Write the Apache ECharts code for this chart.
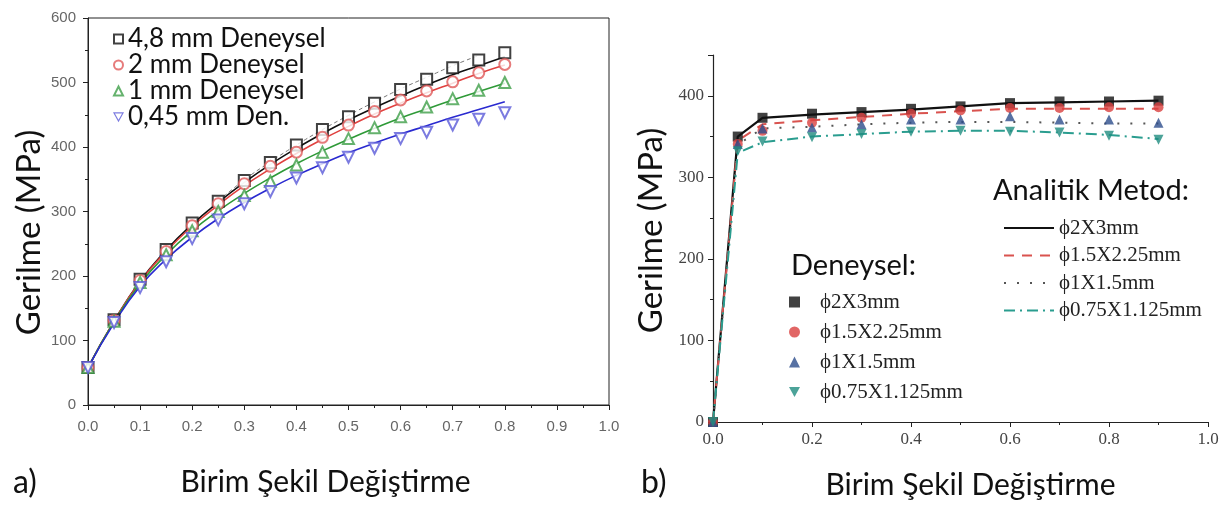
<!DOCTYPE html>
<html><head><meta charset="utf-8">
<script src="https://cdn.jsdelivr.net/npm/echarts@6/dist/echarts.min.js"></script>
<style>html,body{margin:0;padding:0;background:#fff}#c{width:1225px;height:505px}</style>
</head><body><div id="c"></div>
<script>
// ---------- Panel a ----------
const strainA = [0,0.05,0.1,0.15,0.2,0.25,0.3,0.35,0.4,0.45,0.5,0.55,0.6,0.65,0.7,0.75,0.8];
const namesA = ['4,8 mm Deneysel','2 mm Deneysel','1 mm Deneysel','0,45 mm Den.'];
const expA_48 = [58,132,195,241,282,316,348,376,403,427,447,468,489,505,523,535,546];
const expA_2  = [58,131,193,238,278,312,343,370,392,415,434,455,473,487,501,515,528];
const expA_1  = [58,130,190,233,270,300,325,347,372,392,413,430,447,462,475,488,500];
const expA_045= [58,128,182,222,258,287,312,331,352,368,384,398,413,423,434,443,453];
const fitA_48 = [58,130,192,240,280,314,345,373,398,421,442,461,479,496,512,526,540];
const fitA_2  = [58,130,191,238,277,310,340,366,390,412,432,451,468,484,499,514,527];
const fitA_1  = [58,129,188,233,270,301,328,352,374,394,412,429,445,459,473,486,499];
const fitA_045= [58,127,184,226,260,289,314,336,356,374,391,406,420,433,446,458,470];
const dashStrainA = [0.25,0.3,0.35,0.4,0.45,0.5,0.55,0.6,0.65,0.7,0.75];
const dashA_48 = [316,349,377,403,427,449,470,490,508,526,542];

// ---------- Panel b ----------
const strainB = [0,0.05,0.1,0.2,0.3,0.4,0.5,0.6,0.7,0.8,0.9];
const namesB = ['ϕ2X3mm','ϕ1.5X2.25mm','ϕ1X1.5mm','ϕ0.75X1.125mm'];
const expB_2   = [0,350,373,378,380,384,387,391,393,393,394];
const expB_15  = [0,341,357,367,373,378,382,385,385,386,386];
const expB_1   = [0,341,360,361,365,371,371,375,371,371,367];
const expB_075 = [0,332,344,349,353,356,357,356,355,351,346];
const anB_2    = [0,350,373,377,380,383,387,391,392,393,394];
const anB_15   = [0,345,365,370,374,378,381,384,384,384,384];
const anB_1    = [0,340,360,362,365,367,368,368,367,366,366];
const anB_075  = [0,330,343,350,353,356,357,357,355,352,347];

const pairs = (xs, ys) => xs.map((x, i) => [x, ys[i]]);

const sansFont = 'Lato';
const chart = echarts.init(document.getElementById('c'), null, {renderer: 'canvas'});

const colA = ['#111111','#e0413f','#2f9a38','#2a2ad0'];
const mkA = ['emptyRect','emptyCircle','emptyTriangle','emptyTriangle'];
const mkColA = ['#111111','#e05a5a','#3f9f48','#5a5ad8'];
const expA = [expA_48, expA_2, expA_1, expA_045];
const fitA = [fitA_48, fitA_2, fitA_1, fitA_045];

const colB = ['#111111','#d9403f','#2d4e8c','#1f8c80'];
const mkB = ['rect','circle','triangle','triangle'];
const expB = [expB_2, expB_15, expB_1, expB_075];
const anB = [anB_2, anB_15, anB_1, anB_075];
const lineTypesB = ['solid', [10,8], [2,11], [11,5,2,5]];
const lineColB = ['#111111','#d9534f','#555555','#2a9d8f'];

const series = [];
fitA.forEach((d, i) => series.push({
  type: 'line', name: namesA[i] + ' fit', xAxisIndex: 0, yAxisIndex: 0,
  data: pairs(strainA, d), smooth: true, symbol: 'none',
  lineStyle: {color: colA[i], width: 1.6}, z: 2, silent: true
}));
series.push({
  type: 'line', name: '4,8 mm dashed', xAxisIndex: 0, yAxisIndex: 0,
  data: pairs(dashStrainA, dashA_48), smooth: true, symbol: 'none',
  lineStyle: {color: '#777', width: 1, type: [4,3]}, z: 2, silent: true
});
expA.forEach((d, i) => series.push({
  type: 'scatter', name: namesA[i], xAxisIndex: 0, yAxisIndex: 0,
  data: pairs(strainA, d), symbol: mkA[i], symbolSize: 11,
  symbolRotate: i === 3 ? 180 : 0,
  itemStyle: {color: mkColA[i], borderColor: mkColA[i], borderWidth: 1.2}, z: 3
}));
anB.forEach((d, i) => series.push({
  type: 'line', name: namesB[i] + ' ', xAxisIndex: 1, yAxisIndex: 1,
  data: pairs(strainB, d), symbol: 'none',
  itemStyle: {color: lineColB[i]},
  lineStyle: {color: lineColB[i], width: i === 0 ? 2.2 : 2, type: lineTypesB[i]}, z: 2
}));
expB.forEach((d, i) => series.push({
  type: 'scatter', name: namesB[i], xAxisIndex: 1, yAxisIndex: 1,
  data: pairs(strainB, d), symbol: mkB[i], symbolSize: 10,
  symbolRotate: i === 3 ? 180 : 0,
  itemStyle: {color: colB[i]}, z: 3
}));

const axisLabelA = {color: '#666', fontFamily: 'Liberation Sans', fontSize: 15};
const axisLabelB = {color: '#444', fontFamily: 'Liberation Serif', fontSize: 17};

const downTri = 'path://M0,0L10,0L5,9Z';
const legendAData = namesA.map((n, i) => i === 3
  ? {name: n, icon: downTri, itemStyle: {color: '#fff', borderColor: mkColA[3], borderWidth: 1.2}}
  : {name: n});
const legendBData = namesB.map((n, i) => i === 3
  ? {name: n, icon: downTri, itemStyle: {color: colB[3]}}
  : {name: n});

chart.setOption({
  animation: false,
  backgroundColor: '#fff',
  title: [
    {text: 'a)', left: 8, top: 462, textStyle: {fontFamily: sansFont, fontWeight: 'normal', fontSize: 32, color: '#111'}},
    {text: 'b)', left: 636, top: 462, textStyle: {fontFamily: sansFont, fontWeight: 'normal', fontSize: 32, color: '#111'}},
    {text: 'Deneysel:', left: 786, top: 246, textStyle: {fontFamily: sansFont, fontWeight: 'normal', fontSize: 29, color: '#111'}},
    {text: 'Analitik Metod:', left: 988, top: 171, textStyle: {fontFamily: sansFont, fontWeight: 'normal', fontSize: 29, color: '#111'}}
  ],
  legend: [
    {
      data: legendAData,
      orient: 'vertical', left: 113, top: 26, itemWidth: 9, itemHeight: 9, itemGap: 0,
      padding: 0,
      textStyle: {fontFamily: sansFont, fontSize: 26, color: '#111', lineHeight: 23}
    },
    {
      data: legendBData,
      orient: 'vertical', left: 789, top: 291, itemWidth: 11, itemHeight: 11, itemGap: 8,
      padding: 0,
      textStyle: {fontFamily: 'Liberation Serif', fontSize: 21, color: '#222', lineHeight: 22, padding: [0, 0, 0, 15]}
    },
    {
      data: namesB.map(n => n + ' '),
      orient: 'vertical', left: 1003, top: 217, itemWidth: 50, itemHeight: 12, itemGap: 5.5,
      padding: 0,
      itemStyle: {opacity: 0},
      textStyle: {fontFamily: 'Liberation Serif', fontSize: 21, color: '#222', lineHeight: 22}
    }
  ],
  grid: [
    {left: 88, top: 18, width: 521, height: 387, show: true, borderColor: '#222', borderWidth: 1, backgroundColor: 'transparent', containLabel: false},
    {left: 713, top: 55, width: 495, height: 367, containLabel: false}
  ],
  xAxis: [
    {
      type: 'value', gridIndex: 0, min: 0, max: 1, interval: 0.1,
      name: 'Birim Şekil Değiştirme', nameLocation: 'middle', nameGap: 62,
      nameTextStyle: {fontFamily: sansFont, fontSize: 30, color: '#111', padding: [0, 46, 0, 0]},
      axisLine: {show: true, onZero: false, lineStyle: {color: '#222', width: 1}},
      axisTick: {show: true, length: 5, lineStyle: {color: '#222'}},
      minorTick: {show: true, splitNumber: 2, length: 3, lineStyle: {color: '#222'}},
      axisLabel: Object.assign({margin: 14, formatter: v => v.toFixed(1)}, axisLabelA),
      splitLine: {show: false}
    },
    {
      type: 'value', gridIndex: 1, min: 0, max: 1, interval: 0.2,
      name: 'Birim Şekil Değiştirme', nameLocation: 'middle', nameGap: 48,
      nameTextStyle: {fontFamily: sansFont, fontSize: 30, color: '#111', padding: [0, 0, 0, 20]},
      axisLine: {show: true, onZero: false, lineStyle: {color: '#222', width: 1.2}},
      axisTick: {show: true, length: 5, lineStyle: {color: '#222'}},
      minorTick: {show: true, splitNumber: 2, length: 3, lineStyle: {color: '#222'}},
      axisLabel: Object.assign({margin: 9, formatter: v => v.toFixed(1)}, axisLabelB),
      splitLine: {show: false}
    }
  ],
  yAxis: [
    {
      type: 'value', gridIndex: 0, min: 0, max: 600, interval: 100,
      name: 'Gerilme (MPa)', nameLocation: 'middle', nameGap: 42,
      nameTextStyle: {fontFamily: sansFont, fontSize: 33, color: '#111', padding: [0, 42, 0, 0]},
      axisLine: {show: true, onZero: false, lineStyle: {color: '#222', width: 1}},
      axisTick: {show: true, length: 5, lineStyle: {color: '#222'}},
      minorTick: {show: true, splitNumber: 2, length: 3, lineStyle: {color: '#222'}},
      axisLabel: Object.assign({margin: 12}, axisLabelA),
      splitLine: {show: false}
    },
    {
      type: 'value', gridIndex: 1, min: 0, max: 450, interval: 100,
      name: 'Gerilme (MPa)', nameLocation: 'middle', nameGap: 45,
      nameTextStyle: {fontFamily: sansFont, fontSize: 33, color: '#111', padding: [0, 0, 0, 16]},
      axisLine: {show: true, onZero: false, lineStyle: {color: '#222', width: 1.2}},
      axisTick: {show: true, length: 5, lineStyle: {color: '#222'}},
      minorTick: {show: true, splitNumber: 2, length: 3, lineStyle: {color: '#222'}},
      axisLabel: Object.assign({margin: 9, showMaxLabel: false}, axisLabelB),
      splitLine: {show: false}
    }
  ],
  series: series
});
</script></body></html>
